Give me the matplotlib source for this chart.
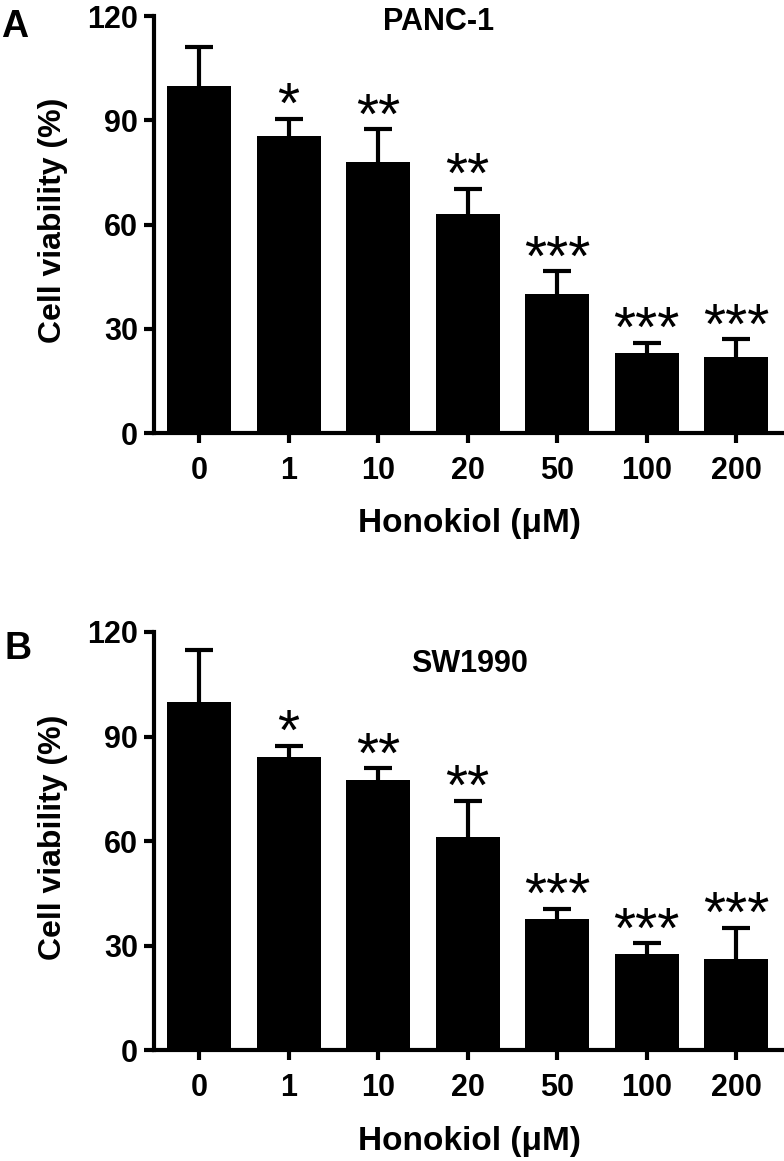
import matplotlib
matplotlib.use('Agg')
import numpy as np
import matplotlib.pyplot as plt

plt.rcParams['font.family'] = ['Liberation Sans', 'DejaVu Sans']

doses = ['0', '1', '10', '20', '50', '100', '200']
panc_mean = [100.0, 85.5, 77.9, 62.9, 39.9, 23.1, 22.0]
panc_sd = [11.0, 4.9, 9.5, 7.3, 6.7, 2.9, 5.0]
sw_mean = [100.0, 84.1, 77.6, 61.3, 37.7, 27.7, 26.2]
sw_sd = [14.8, 3.3, 3.3, 10.3, 2.9, 3.0, 9.0]
stars = ['', '*', '**', '**', '***', '***', '***']

fig = plt.figure(figsize=(7.84, 11.61), dpi=100)
axA = fig.add_axes([0.1964, 0.6270, 0.8036, 0.3592])
axB = fig.add_axes([0.1964, 0.09518, 0.8036, 0.3605])

def panel(ax, mean, sd, title, tx, ty):
    x = np.arange(len(doses))
    ax.bar(x, mean, width=0.715, color='black', zorder=2)
    eb = ax.errorbar(x, mean, yerr=[np.zeros(len(sd)), sd], fmt='none', ecolor='black',
                     elinewidth=3, capsize=10, capthick=3, zorder=1, clip_on=False)
    # hide the lower cap that sits on the bar top
    eb[1][0].set_visible(False)
    for xi, m, s, st in zip(x, mean, sd, stars):
        if st:
            ax.text(xi, m + s - 1.2, st, ha='center', va='baseline', fontsize=41,
                    color='black', clip_on=False)
    ax.set_xlim(-0.503, 6.536)
    ax.set_ylim(0, 120)
    ax.set_yticks([0, 30, 60, 90, 120])
    ax.set_xticks(x)
    ax.set_xticklabels(doses)
    for sp in ['top', 'right']:
        ax.spines[sp].set_visible(False)
    for sp in ['left', 'bottom']:
        ax.spines[sp].set_linewidth(3)
    ax.tick_params(axis='both', width=3, length=7.5, labelsize=22)
    ax.tick_params(axis='x', pad=9)
    ax.tick_params(axis='y', pad=4)
    for lab in ax.get_xticklabels() + ax.get_yticklabels():
        lab.set_fontweight('bold')
    ax.set_ylabel('Cell viability (%)', fontsize=23, fontweight='bold')
    ax.yaxis.set_label_coords(-0.137, 0.51)
    ax.set_xlabel('Honokiol (\u03bcM)', fontsize=24, fontweight='bold')
    ax.xaxis.set_label_coords(0.5, -0.18)
    ax.text(tx, ty, title, transform=ax.transAxes, ha='center', va='baseline',
            fontsize=22, fontweight='bold')

panel(axA, panc_mean, panc_sd, 'PANC-1', 0.452, 0.9664)
panel(axB, sw_mean, sw_sd, 'SW1990', 0.5016, 0.9044)

fig.text(0.001, 0.968, 'A', fontsize=27, fontweight='bold', ha='left', va='baseline')
fig.text(0.0057, 0.4324, 'B', fontsize=27, fontweight='bold', ha='left', va='baseline')

fig.savefig('out.png', dpi=100)
